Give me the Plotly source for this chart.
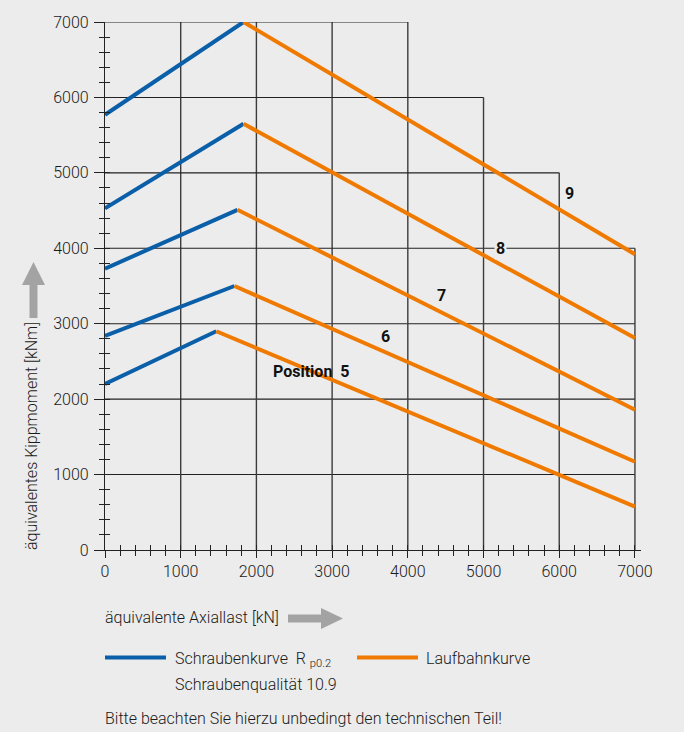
import plotly.graph_objects as go

# ---- data ----
positions = ["5", "6", "7", "8", "9"]
bolt_start_y = [2200, 2840, 3730, 4530, 5770]     # Schraubenkurve at x=0
peak_x = [1470, 1710, 1750, 1830, 1830]           # break point x
peak_y = [2900, 3500, 4510, 5650, 7000]           # break point y
race_end_y = [575, 1170, 1860, 2810, 3920]        # Laufbahnkurve at x=7000
x_end = 7000

label_x = [3250, 3710, 4450, 5220, 6130]
label_y = [2360, 2830, 3380, 4000, 4720]
label_text = ["Position  5", "6", "7", "8", "9"]

x_ticks = [0, 1000, 2000, 3000, 4000, 5000, 6000, 7000]
y_ticks = [0, 1000, 2000, 3000, 4000, 5000, 6000, 7000]

# staircase grid
grid_levels = [1000, 2000, 3000, 4000, 5000, 6000, 7000]
grid_extent = [7000, 7000, 7000, 7000, 6000, 5000, 4000]

BLUE = "#0a5fa8"
ORANGE = "#f07a00"
BG = "#ececec"
FONT = "Roboto"
TXT = "#1a1a1a"
LIGHT = 300

W, H = 684, 732
L, R, T, B = 105, 43, 22, 182
PW = W - L - R
PH = H - T - B


def px(p):
    return (p - L) / PW


def py(p):
    return (H - B - p) / PH


fig = go.Figure()

for i in range(len(positions)):
    fig.add_trace(go.Scatter(x=[0, peak_x[i]], y=[bolt_start_y[i], peak_y[i]],
                             mode="lines", line=dict(color=BLUE, width=4),
                             showlegend=False, hoverinfo="skip"))
    fig.add_trace(go.Scatter(x=[peak_x[i], x_end], y=[peak_y[i], race_end_y[i]],
                             mode="lines", line=dict(color=ORANGE, width=4),
                             showlegend=False, hoverinfo="skip"))

# invisible trace to carry the overlay axes (minor ticks crossing the axis)
fig.add_trace(go.Scatter(x=[0], y=[0], xaxis="x2", yaxis="y2", mode="markers",
                         marker=dict(opacity=0), showlegend=False, hoverinfo="skip"))

shapes = []
for lv, ex in zip(grid_levels, grid_extent):
    shapes.append(dict(type="line", xref="x", yref="y", x0=0, x1=ex, y0=lv, y1=lv,
                       line=dict(color="#222222", width=1.1), layer="below"))
    shapes.append(dict(type="line", xref="x", yref="y", x0=lv, x1=lv, y0=0, y1=ex,
                       line=dict(color="#3c3c3c", width=1.4), layer="below"))

# axis arrows (decoration)
def hpath(x0, x1, x2, yc, sh, hh):
    return (f"M {px(x0)} {py(yc - sh)} L {px(x1)} {py(yc - sh)} L {px(x1)} {py(yc - hh)} "
            f"L {px(x2)} {py(yc)} L {px(x1)} {py(yc + hh)} L {px(x1)} {py(yc + sh)} "
            f"L {px(x0)} {py(yc + sh)} Z")


def vpath(y0, y1, y2, xc, sw, hw):
    return (f"M {px(xc - sw)} {py(y0)} L {px(xc - sw)} {py(y1)} L {px(xc - hw)} {py(y1)} "
            f"L {px(xc)} {py(y2)} L {px(xc + hw)} {py(y1)} L {px(xc + sw)} {py(y1)} "
            f"L {px(xc + sw)} {py(y0)} Z")


shapes.append(dict(type="path", xref="paper", yref="paper",
                   path=hpath(288, 321, 343, 618.5, 4, 10.5),
                   fillcolor="#a3a3a3", line=dict(width=0)))
shapes.append(dict(type="path", xref="paper", yref="paper",
                   path=vpath(318, 285, 262, 33.5, 4, 11.5),
                   fillcolor="#a3a3a3", line=dict(width=0)))

# legend lines
shapes.append(dict(type="line", xref="paper", yref="paper", x0=px(105), x1=px(166),
                   y0=py(657.5), y1=py(657.5), line=dict(color=BLUE, width=4)))
shapes.append(dict(type="line", xref="paper", yref="paper", x0=px(357), x1=px(418),
                   y0=py(657.5), y1=py(657.5), line=dict(color=ORANGE, width=4)))

annotations = []
for t, lx, ly in zip(label_text, label_x, label_y):
    annotations.append(dict(x=lx, y=ly, xref="x", yref="y", text=f"<b>{t}</b>",
                            showarrow=False,
                            xanchor="right" if t.startswith("Position") else "center",
                            yanchor="middle",
                            font=dict(family=FONT, size=16, color="#111"),
                            bgcolor=BG if t == "8" else "rgba(0,0,0,0)", borderpad=1))


def note(text, x, y, xanchor="left", size=16, angle=0):
    annotations.append(dict(x=px(x), y=py(y), xref="paper", yref="paper", text=text,
                            showarrow=False, xanchor=xanchor, yanchor="middle",
                            textangle=angle,
                            font=dict(family=FONT, size=size, color=TXT, weight=LIGHT)))


note("äquivalente Axiallast [kN]", 103, 617)
annotations.append(dict(x=px(31), y=py(436), xref="paper", yref="paper",
                        text="äquivalentes Kippmoment [kNm]", showarrow=False,
                        textangle=-90, xanchor="center", yanchor="middle",
                        font=dict(family=FONT, size=16, color=TXT, weight=LIGHT)))
note("Schraubenkurve  R <sub>p0.2</sub>", 173, 659)
note("Schraubenqualität 10.9", 173, 684)
note("Laufbahnkurve", 424, 658)
note("Bitte beachten Sie hierzu unbedingt den technischen Teil!", 103, 718, size=16)

axis_common = dict(showgrid=False, zeroline=False)

fig.update_layout(
    width=W, height=H,
    margin=dict(l=L, r=R, t=T, b=B),
    paper_bgcolor=BG, plot_bgcolor=BG,
    font=dict(family=FONT, size=16, color=TXT),
    xaxis=dict(range=[0, 7080], tickvals=x_ticks, ticktext=[str(v) for v in x_ticks],
               ticks="outside", ticklen=7, tickwidth=1.2, tickcolor="#222",
               showline=True, linecolor="#222", linewidth=1.2,
               minor=dict(dtick=200, tick0=0, ticks="outside", ticklen=5,
                          tickwidth=1.1, tickcolor="#222"),
               tickfont=dict(family=FONT, size=16, color=TXT, weight=LIGHT),
               fixedrange=True, **axis_common),
    yaxis=dict(range=[0, 7000], tickvals=y_ticks, ticktext=[str(v) for v in y_ticks],
               ticks="outside", ticklen=10, tickwidth=1.2, tickcolor="#222",
               showline=True, linecolor="#222", linewidth=1.2,
               minor=dict(dtick=200, tick0=0, ticks="outside", ticklen=5,
                          tickwidth=1.1, tickcolor="#222"),
               tickfont=dict(family=FONT, size=16, color=TXT, weight=LIGHT),
               ticklabelstandoff=2,
               fixedrange=True, **axis_common),
    xaxis2=dict(range=[0, 7080], overlaying="x", anchor="y", side="bottom",
                tickvals=x_ticks, ticks="inside", ticklen=0, showticklabels=False,
                showline=False,
                minor=dict(dtick=200, tick0=0, ticks="inside", ticklen=5,
                           tickwidth=1.1, tickcolor="#222"),
                fixedrange=True, **axis_common),
    yaxis2=dict(range=[0, 7000], overlaying="y", anchor="x", side="left",
                tickvals=y_ticks, ticks="inside", ticklen=0, showticklabels=False,
                showline=False,
                minor=dict(dtick=200, tick0=0, ticks="inside", ticklen=5,
                           tickwidth=1.1, tickcolor="#222"),
                fixedrange=True, **axis_common),
    shapes=shapes,
    annotations=annotations,
    showlegend=False,
)

fig.write_html(
    "out.html",
    config={"displayModeBar": False},
    post_script="document.body.style.margin='0';document.body.style.padding='0';"
                "document.documentElement.style.background='" + BG + "';",
)
